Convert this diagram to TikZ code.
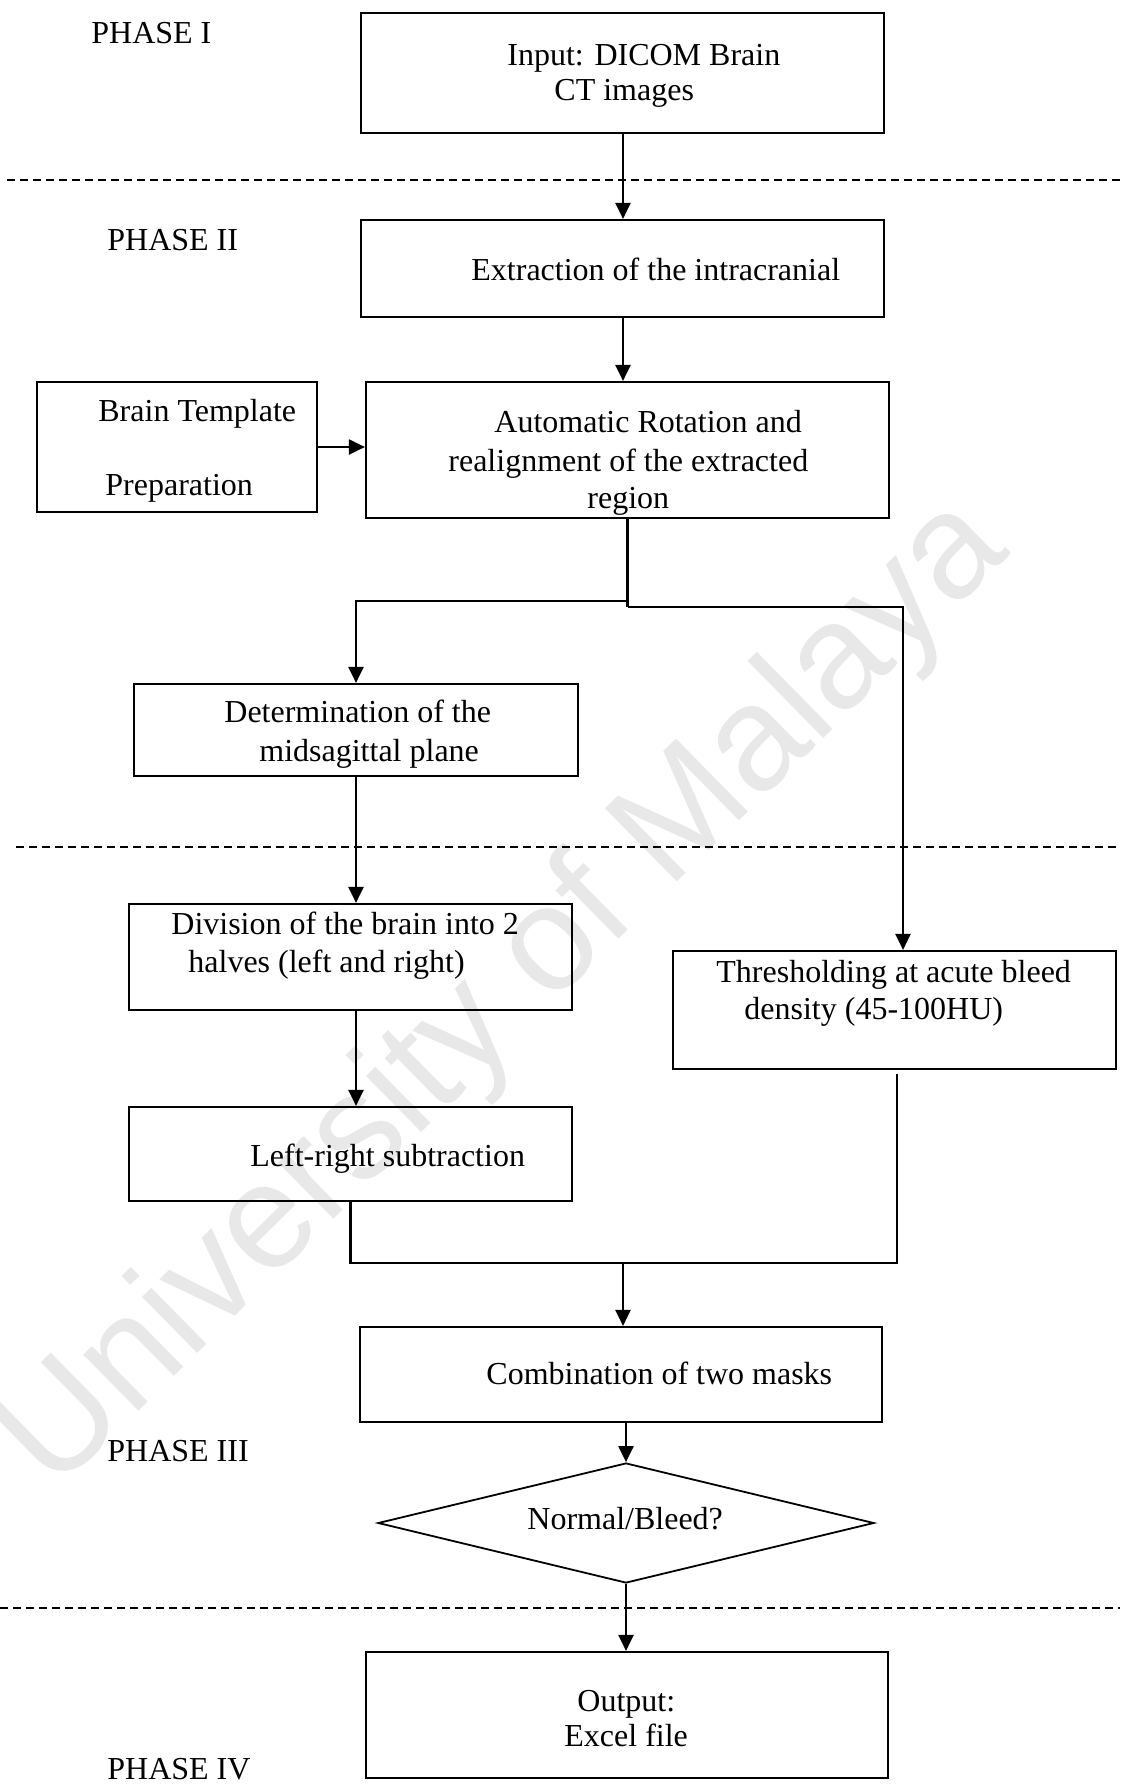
\documentclass[tikz,border=0pt]{standalone}
\usepackage{fontspec}
\setmainfont{Liberation Serif}
\newfontfamily\wmfont{Liberation Sans}
\usetikzlibrary{arrows.meta,fit,shapes.geometric}
\tikzset{
  box/.style={draw, line width=1.1pt, inner sep=0pt},
  thinbox/.style={draw, line width=0.6pt, inner sep=0pt},
  txt/.style={anchor=base west, inner sep=0pt, font=\fontsize{16}{19}\selectfont},
  conn/.style={line width=1.1pt},
  arr/.style={line width=1.1pt, -{Triangle[length=8pt,width=7.5pt]}},
  divider/.style={line width=0.7pt, dash pattern=on 4pt off 2.5pt},
}
\begin{document}
\begin{tikzpicture}[x=0.5pt, y=-0.5pt]
\useasboundingbox (0,0) rectangle (1120,1789);
% watermark
\node[rotate=44.5, text=black!9, inner sep=0pt, font=\wmfont\fontsize{74.5}{75}\selectfont] (wm) at (506,996) {University of Malaya};

% dashed phase dividers
\coordinate (d1a) at (7,180);   \coordinate (d1b) at (1120,180);
\coordinate (d2a) at (16,847);  \coordinate (d2b) at (1120,847);
\coordinate (d3a) at (0,1608);  \coordinate (d3b) at (1120,1608);
\draw[divider] (d1a) -- (d1b);
\draw[divider] (d2a) -- (d2b);
\draw[divider] (d3a) -- (d3b);

% boxes
\node[box, fit={(361,13) (884,133)}] (b1) {};
\node[box, fit={(361,220) (884,317)}] (b2) {};
\node[thinbox, fit={(37,382) (317,512)}] (tp) {};
\node[box, fit={(366,382) (889,518)}] (b3) {};
\node[box, fit={(134,684) (578,776)}] (b4) {};
\node[box, fit={(129,904) (572,1010)}] (b5) {};
\node[box, fit={(673,951) (1116,1069)}] (b6) {};
\node[box, fit={(129,1107) (572,1201)}] (b7) {};
\node[box, fit={(360,1327) (882,1422)}] (b8) {};
\node[draw, diamond, line width=0.9pt, inner sep=0pt, shape aspect=4.13,
      minimum width=248pt, minimum height=60pt] (dia) at (626,1523) {};
\node[box, fit={(366,1652) (888,1778)}] (b9) {};

% texts
\node[txt] (tPh1) at (91,43) {PHASE I};
\node[txt] (t1a) at (507,65) {Input: DICOM Brain};
\node[txt] (t1b) at (554,100) {CT images};
\node[txt] (tPh2) at (107,250) {PHASE II};
\node[txt] (t2) at (471,280) {Extraction of the intracranial};
\node[txt] (tpa) at (98,421) {Brain Template};
\node[txt] (tpb) at (105,495) {Preparation};
\node[txt] (t3a) at (494,432) {Automatic Rotation and};
\node[txt] (t3b) at (448,471) {realignment of the extracted};
\node[txt] (t3c) at (587,508) {region};
\node[txt] (t4a) at (224,722) {Determination of the};
\node[txt] (t4b) at (259,761) {midsagittal plane};
\node[txt] (t5a) at (171,934) {Division of the brain into 2};
\node[txt] (t5b) at (188,972) {halves (left and right)};
\node[txt] (t6a) at (716,982) {Thresholding at acute bleed};
\node[txt] (t6b) at (744,1019) {density (45-100HU)};
\node[txt] (t7) at (250,1166) {Left-right subtraction};
\node[txt] (t8) at (486,1384) {Combination of two masks};
\node[txt] (tPh3) at (107,1461) {PHASE III};
\node[txt] (tdia) at (527,1529) {Normal/Bleed?};
\node[txt] (t9a) at (577,1711) {Output:};
\node[txt] (t9b) at (564,1746) {Excel file};
\node[txt] (tPh4) at (107,1779) {PHASE IV};

% helper coordinates
\coordinate (colA) at (623,0);
\coordinate (colL) at (356,0);
\coordinate (sL) at (627.5,601);
\coordinate (sR) at (627.5,607);
\coordinate (cR) at (903,607);
\coordinate (mR) at (897,1263);
\coordinate (t6e) at (897,1074);
\coordinate (m) at (623,1263);

% connectors
\draw[arr] (b1.south -| colA) -- (b2.north -| colA);
\draw[arr] (b2.south -| colA) -- (b3.north -| colA);
\draw[arr] (tp.east) -- (tp.east -| b3.west);
\draw[conn] (b3.south) -- (sR);
\draw[arr] (sL) -| (b4.north -| colL);
\draw[arr] (sR) -- (cR) -- (cR |- b6.north);
\draw[arr] (b4.south -| colL) -- (b5.north -| colL);
\draw[arr] (b5.south -| colL) -- (b7.north -| colL);
\draw[conn] (b7.south) |- (mR) -- (t6e);
\draw[arr] (m) -- (m |- b8.north);
\draw[arr] (dia.north |- b8.south) -- (dia.north);
\draw[arr] (dia.south) -- (dia.south |- b9.north);
\end{tikzpicture}
\end{document}
